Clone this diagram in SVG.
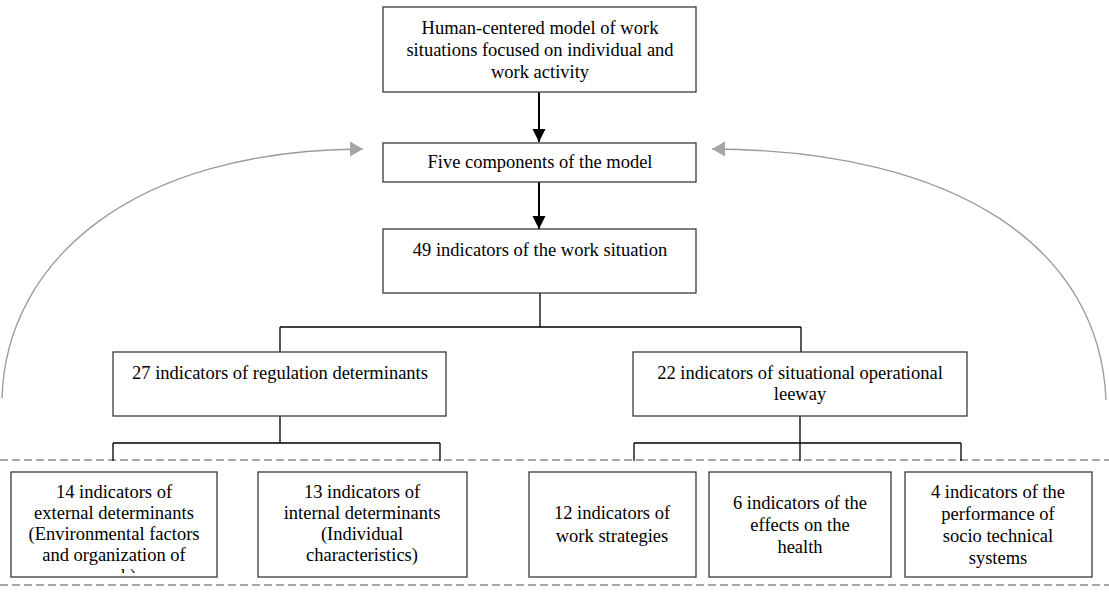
<svg xmlns="http://www.w3.org/2000/svg" width="1109" height="592" viewBox="0 0 1109 592">
<style>
.box{fill:#fff;stroke:#3a3a3a;stroke-width:1.3}
text{font-family:'Liberation Serif','Times New Roman',Times,'DejaVu Serif',serif;font-size:18.5px;fill:#000;text-anchor:middle}
.ln{fill:none;stroke:#000;stroke-width:1.3}
.ar{fill:none;stroke:#000;stroke-width:2}
.ga{fill:none;stroke:#9a9a9a;stroke-width:1.3}
.dash{fill:none;stroke:#a6a6a6;stroke-width:2;stroke-dasharray:8,4}
</style>
<defs>
<marker id="ah" markerUnits="userSpaceOnUse" markerWidth="14" markerHeight="14" refX="13" refY="6.5" orient="auto">
<path d="M0,0 L13,6.5 L0,13 Z" fill="#000"/>
</marker>
<marker id="gh" markerUnits="userSpaceOnUse" markerWidth="16" markerHeight="16" refX="13" refY="7.5" orient="auto">
<path d="M0,0 L13,7.5 L0,15 Z" fill="#a6a6a6"/>
</marker>
<clipPath id="c1"><rect x="12" y="473" width="204" height="100"/></clipPath>
</defs>
<rect width="1109" height="592" fill="#fff"/>
<g id="dashes">
<line class="dash" x1="0" y1="460" x2="1109" y2="460"/>
<line class="dash" x1="0" y1="585" x2="1109" y2="585"/>
</g>
<g id="connectors">
<line class="ar" x1="539" y1="92" x2="539" y2="142" marker-end="url(#ah)"/>
<line class="ar" x1="539" y1="182" x2="539" y2="229" marker-end="url(#ah)"/>
<path class="ln" d="M540,293 V327 M280,327 H801 M280,327 V352 M801,327 V352"/>
<path class="ln" d="M280,416 V443 M113,443 H440 M113,443 V461 M440,443 V461"/>
<path class="ln" d="M800,416 V443 M634,443 H961 M634,443 V461 M800,443 V461 M961,443 V461"/>
<path class="ga" d="M2,398 C6,262 130,150 363,149" marker-end="url(#gh)"/>
<path class="ga" d="M1106,400 C1100,250 960,150 712,149" marker-end="url(#gh)"/>
</g>
<g id="n1">
<rect class="box" x="383" y="7" width="313" height="85"/>
<text x="540" y="34">Human-centered model of work</text>
<text x="540" y="56">situations focused on individual and</text>
<text x="540" y="78">work activity</text>
</g>
<g id="n2">
<rect class="box" x="383" y="143" width="313" height="39"/>
<text x="540" y="168">Five components of the model</text>
</g>
<g id="n3">
<rect class="box" x="383" y="229" width="313" height="64"/>
<text x="540" y="256">49 indicators of the work situation</text>
</g>
<g id="n4">
<rect class="box" x="113" y="352" width="333" height="64"/>
<text x="280" y="379">27 indicators of regulation determinants</text>
</g>
<g id="n5">
<rect class="box" x="633" y="352" width="334" height="64"/>
<text x="800" y="379">22 indicators of situational operational</text>
<text x="800" y="400">leeway</text>
</g>
<g id="n6">
<rect class="box" x="11" y="472" width="206" height="105"/>
<g clip-path="url(#c1)">
<text x="114" y="498">14 indicators of</text>
<text x="114" y="519">external determinants</text>
<text x="114" y="540">(Environmental factors</text>
<text x="114" y="561">and organization of</text>
<text x="114" y="582">work)</text>
</g>
</g>
<g id="n7">
<rect class="box" x="258" y="472" width="209" height="105"/>
<text x="362" y="498">13 indicators of</text>
<text x="362" y="519">internal determinants</text>
<text x="362" y="540">(Individual</text>
<text x="362" y="561">characteristics)</text>
</g>
<g id="n8">
<rect class="box" x="529" y="472" width="167" height="105"/>
<text x="612" y="519">12 indicators of</text>
<text x="612" y="542">work strategies</text>
</g>
<g id="n9">
<rect class="box" x="709" y="472" width="182" height="105"/>
<text x="800" y="509">6 indicators of the</text>
<text x="800" y="531">effects on the</text>
<text x="800" y="553">health</text>
</g>
<g id="n10">
<rect class="box" x="905" y="472" width="187" height="105"/>
<text x="998" y="498">4 indicators of the</text>
<text x="998" y="520">performance of</text>
<text x="998" y="542">socio technical</text>
<text x="998" y="564">systems</text>
</g>
</svg>
